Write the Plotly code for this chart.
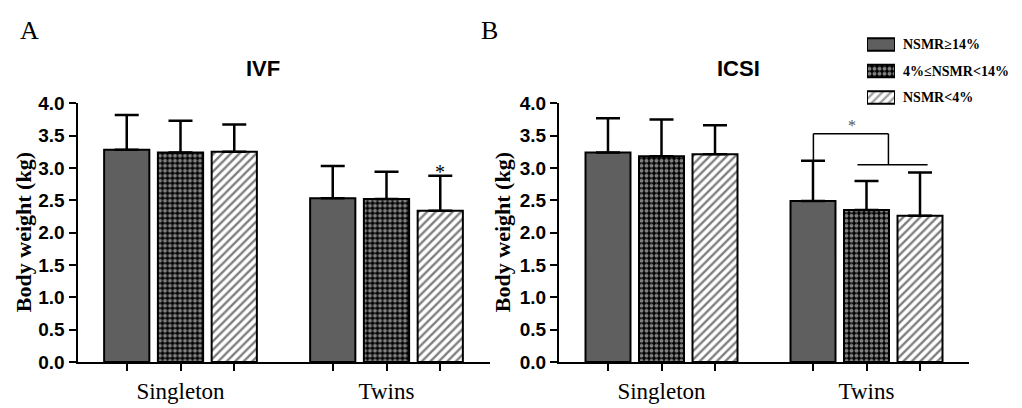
import plotly.graph_objects as go

groups = ["Singleton", "Twins"]
series = ["NSMR≥14%", "4%≤NSMR<14%", "NSMR<4%"]

ivf_mean = [[3.28, 2.53], [3.24, 2.52], [3.25, 2.34]]
ivf_top = [[3.82, 3.03], [3.73, 2.94], [3.67, 2.88]]
icsi_mean = [[3.24, 2.49], [3.18, 2.35], [3.21, 2.26]]
icsi_top = [[3.77, 3.11], [3.75, 2.80], [3.66, 2.93]]

yticks = [0.0, 0.5, 1.0, 1.5, 2.0, 2.5, 3.0, 3.5, 4.0]

# significance marks
ivf_star_y = 2.93
icsi_star = (0.927, 3.66)
# bracket (ICSI twins), data units
br_left_x, br_right_x, br_y = 0.741, 1.107, 3.53
br_left_bottom, br_right_bottom = 3.11, 3.05
br_sub_x0, br_sub_x1 = 0.956, 1.298

W, H = 1014, 400  # page body has an 8px margin
BGAP = 0.217
BGGAP = 0.159
slot = (1 - BGAP) / 3

DARK = "#5f5f5f"
styles = [
    dict(color=DARK, shape="", bg=DARK, fg=DARK, size=8, sol=0.3),
    dict(color="black", shape=".", bg="black", fg="white", size=5, sol=0.5),
    dict(color="white", shape="/", bg="white", fg="black", size=6, sol=0.4),
]

fig = go.Figure()
gx = [0, 1]
for panel, (means, tops) in enumerate([(ivf_mean, ivf_top), (icsi_mean, icsi_top)]):
    xa = "x" if panel == 0 else "x2"
    ya = "y" if panel == 0 else "y2"
    for i in range(3):
        s = styles[i]
        marker = dict(color=s["color"], line=dict(color="black", width=2))
        if s["shape"]:
            marker["pattern"] = dict(shape=s["shape"], bgcolor=s["bg"], fgcolor=s["fg"],
                                     size=s["size"], solidity=s["sol"])
        fig.add_trace(go.Bar(
            x=gx, y=means[i], name=series[i], xaxis=xa, yaxis=ya,
            marker=marker, showlegend=False,
            error_y=dict(type="data", symmetric=False,
                         array=[t - m for t, m in zip(tops[i], means[i])],
                         arrayminus=[0, 0], color="black", thickness=2.5, width=12),
        ))

# manual legend (patches drawn as bars on a small hidden axis)
leg_rows = [0, 1, 2]
fig.add_trace(go.Bar(
    y=leg_rows, x=[1, 1, 1], base=0, orientation="h", width=0.47, offset=-0.235,
    xaxis="x3", yaxis="y3", showlegend=False, hoverinfo="skip",
    marker=dict(color=[s["color"] for s in styles], line=dict(color="black", width=2),
                pattern=dict(shape=[s["shape"] for s in styles],
                             bgcolor=[s["bg"] for s in styles],
                             fgcolor=[s["fg"] for s in styles],
                             size=[s["size"] for s in styles],
                             solidity=[s["sol"] for s in styles])),
))

bar_centers = [g + (i - 1) * slot for g in gx for i in range(3)]
tick_text = ["", groups[0], "", "", groups[1], ""]

xcommon = dict(range=[-0.5, 1.5], tickvals=bar_centers, ticktext=tick_text,
               ticks="outside", ticklen=7, tickwidth=2, tickcolor="black",
               showline=True, linecolor="black", linewidth=2, showgrid=False,
               zeroline=False, tickfont=dict(family="Liberation Serif", size=23, color="black"))
ycommon = dict(range=[0, 4.0], tickvals=yticks, tickformat=".1f",
               ticks="outside", ticklen=7, tickwidth=2, tickcolor="black",
               showline=True, linecolor="black", linewidth=2, showgrid=False,
               zeroline=False,
               tickfont=dict(family="Liberation Sans", size=19, color="black", weight="bold"))

YD = [1 - 363 / H, 1 - 90 / H]
fig.update_layout(
    width=W, height=H,
    margin=dict(l=0, r=0, t=0, b=0),
    paper_bgcolor="white", plot_bgcolor="white",
    barmode="group", bargap=BGAP, bargroupgap=BGGAP,
    xaxis=dict(domain=[69.5 / W, 481.5 / W], anchor="y", **xcommon),
    yaxis=dict(domain=YD, anchor="x", **ycommon),
    xaxis2=dict(domain=[551 / W, 961 / W], anchor="y2", **xcommon),
    yaxis2=dict(domain=YD, anchor="x2", **ycommon),
    xaxis3=dict(domain=[859 / W, 887 / W], anchor="y3", range=[0, 1], visible=False),
    yaxis3=dict(domain=[1 - 98 / H, 1 - 14 / H], anchor="x3", range=[2.5, -0.5], visible=False),
    showlegend=False,
)


def txt(text, x, y, size, family="Liberation Serif", color="black", angle=0, xref="paper", yref="paper",
        xanchor="center"):
    return dict(text=text, x=x, y=y, xref=xref, yref=yref, xanchor=xanchor, yanchor="middle",
                textangle=angle, showarrow=False,
                font=dict(family=family, size=size, color=color))


ann = [
    txt("A", 21 / W, 1 - 13 / H, 26),
    txt("B", 481 / W, 1 - 13 / H, 26),
    txt("<b>IVF</b>", 255 / W, 1 - 53 / H, 22, family="Liberation Sans"),
    txt("<b>ICSI</b>", 730 / W, 1 - 53 / H, 22, family="Liberation Sans"),
    txt("<b>Body weight (kg)</b>", 15 / W, 1 - 226 / H, 22, angle=-90),
    txt("<b>Body weight (kg)</b>", 494 / W, 1 - 226 / H, 22, angle=-90),
    txt("*", 1 + slot, ivf_star_y, 20, xref="x", yref="y"),
    txt("*", icsi_star[0], icsi_star[1], 16, color="#555555", xref="x2", yref="y2"),
]
for r, name in zip(leg_rows, series):
    ann.append(txt("<b>" + name + "</b>", 893 / W, r, 14, yref="y3", xanchor="left"))
fig.update_layout(annotations=ann)

ln = dict(color="black", width=1.5)
shapes = [
    dict(type="line", xref="x2", yref="y2", x0=br_left_x, x1=br_right_x, y0=br_y, y1=br_y, line=ln),
    dict(type="line", xref="x2", yref="y2", x0=br_left_x, x1=br_left_x, y0=br_left_bottom, y1=br_y, line=ln),
    dict(type="line", xref="x2", yref="y2", x0=br_right_x, x1=br_right_x, y0=br_right_bottom, y1=br_y, line=ln),
    dict(type="line", xref="x2", yref="y2", x0=br_sub_x0, x1=br_sub_x1, y0=br_right_bottom, y1=br_right_bottom, line=ln),
]
fig.update_layout(shapes=shapes)

fig.write_html("out.html")
